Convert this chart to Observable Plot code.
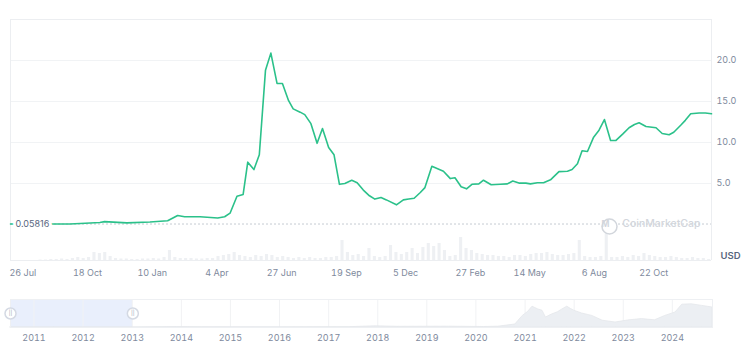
<!DOCTYPE html>
<html><head><meta charset="utf-8">
<script src="https://cdn.jsdelivr.net/npm/d3@7"></script>
<script src="https://cdn.jsdelivr.net/npm/@observablehq/plot@0.6"></script>
<style>
body{margin:0;background:#fff;font-family:Inter,sans-serif;}
#wrap{position:relative;width:750px;height:351px;}
#wrap svg{position:absolute;left:0;}
</style></head><body><div id="wrap"></div>
<script>
const priceDates = ["2010-07-10","2010-08-27","2010-09-25","2010-10-15","2010-11-03","2010-11-09","2010-12-08","2011-01-07","2011-01-30","2011-02-12","2011-02-21","2011-03-13","2011-04-05","2011-04-14","2011-04-21","2011-04-30","2011-05-08","2011-05-14","2011-05-22","2011-05-29","2011-06-06","2011-06-13","2011-06-21","2011-06-28","2011-07-06","2011-07-12","2011-07-21","2011-07-27","2011-08-04","2011-08-12","2011-08-19","2011-08-27","2011-09-03","2011-09-10","2011-09-17","2011-09-26","2011-10-03","2011-10-11","2011-10-19","2011-10-26","2011-11-03","2011-11-10","2011-11-23","2011-12-02","2011-12-09","2011-12-16","2011-12-24","2011-12-30","2012-01-08","2012-01-23","2012-02-01","2012-02-07","2012-02-15","2012-02-22","2012-02-29","2012-03-09","2012-03-15","2012-03-25","2012-04-06","2012-04-15","2012-04-22","2012-04-30","2012-05-09","2012-05-15","2012-05-24","2012-06-01","2012-06-10","2012-06-21","2012-07-02","2012-07-08","2012-07-15","2012-07-21","2012-07-28","2012-08-05","2012-08-12","2012-08-19","2012-08-27","2012-09-03","2012-09-12","2012-09-20","2012-09-27","2012-10-03","2012-10-12","2012-10-25","2012-11-02","2012-11-11","2012-11-17","2012-11-26","2012-12-02","2012-12-09","2012-12-20","2012-12-28","2013-01-05"];
const priceValues = [0.058,0.06,0.07,0.15,0.25,0.35,0.2,0.3,0.45,1.1,0.95,0.95,0.8,0.95,1.38,3.45,3.66,7.6,6.7,8.5,18.8,20.9,17.2,17.2,15.1,14.1,13.7,13.4,12.3,9.9,11.7,9.4,8.5,4.9,5.0,5.4,5.1,4.2,3.5,3.1,3.3,3.0,2.4,3.0,3.1,3.2,3.9,4.5,7.1,6.5,5.6,5.7,4.6,4.35,4.9,4.95,5.4,4.85,4.9,4.95,5.3,5.05,5.05,4.95,5.1,5.1,5.45,6.45,6.5,6.7,7.4,9.0,8.9,10.65,11.5,12.8,10.25,10.25,11.05,11.8,12.2,12.4,11.95,11.8,11.1,10.95,11.25,12.1,12.7,13.5,13.6,13.6,13.5];
const startPrice = 0.05816;
const xTickDates = ["2010-07-26","2010-10-18","2011-01-10","2011-04-04","2011-06-27","2011-09-19","2011-12-05","2012-02-27","2012-05-14","2012-08-06","2012-10-22"];
const yTicks = [5, 10, 15, 20];
const yTop = 25;
const viewStart = "2010-07-10", viewEnd = "2013-01-05";

const volStart = "2010-07-12"; // weekly bars
const volValues = [0,0,0,0,0,0.5,0.5,1,1,1.5,1,2,3,2,3,8,7,8,4,2,1.5,1.5,1,1,1.5,1.5,2,1.5,3,10,3,2,2,2,1.5,1.5,2,2,4,5,6,8,5,4,3,5,4,6,5,3,4,3,2,3,2,3,2,2,3,3,4,20,8,5,6,4,12,4,3,4,15,8,6,8,12,7,13,17,14,17,10,4,5,23,12,10,7,6,5,5,4,4,3,5,5,4,6,7,7,8,6,5,5,6,7,20,4,3,3,4,28,3,3,4,3,5,4,7,5,4,3,3,4,3,2,2,3,2,2,1];

const navDates = ["2010-07-10","2011-06-01","2013-01-01","2013-12-01","2014-06-01","2016-01-01","2017-06-01","2017-12-15","2018-06-01","2019-06-15","2020-03-01","2020-06-15","2020-10-20","2020-12-15","2021-01-20","2021-02-25","2021-04-10","2021-05-10","2021-06-05","2021-07-20","2021-09-01","2021-10-05","2021-11-10","2021-12-10","2022-01-01","2022-03-01","2022-05-15","2022-08-01","2022-11-05","2023-02-15","2023-05-20","2023-08-25","2023-11-10","2024-01-25","2024-03-15","2024-05-25","2024-08-10","2024-10-26"];
const navValues = [0.06,0.6,0.4,12,6,4,8,30,17,20,12,20,75,290,380,520,450,420,250,325,380,450,520,460,420,350,290,170,125,180,210,180,290,375,570,580,540,500];
const navYears = ["2011","2012","2013","2014","2015","2016","2017","2018","2019","2020","2021","2022","2023","2024"];
const navStart = "2010-07-10", navEnd = "2024-10-26";
const selStart = "2010-07-10", selEnd = "2013-01-05";

const P = s => new Date(s + "T00:00:00Z");
const priceData = priceDates.map((d, i) => ({date: P(d), price: priceValues[i]}));
const volData = volValues.map((v, i) => ({date: d3.utcDay.offset(P(volStart), 7 * i), vol: v}));
const navData = navDates.map((d, i) => ({date: P(d), price: navValues[i]}));
const xDom = [P(viewStart), P(viewEnd)];
const wrap = document.getElementById("wrap");
const font = {fontFamily: "Inter, sans-serif", fontSize: "9px", color: "#808a9d", background: "transparent"};

const vol = Plot.plot({
  width: 750, height: 290, marginTop: 224, marginBottom: 30, marginLeft: 10, marginRight: 39,
  style: font,
  x: {type: "utc", domain: xDom, axis: null},
  y: {domain: [0, 36], axis: null},
  marks: [
    Plot.rectY(volData, {x1: "date", x2: d => d3.utcDay.offset(d.date, 4), y: "vol", fill: "#eef0f3"}),
    Plot.ruleX(xDom, {stroke: "#eceef1"}),
    Plot.ruleY([0], {stroke: "#eceef1"}),
    Plot.text(["USD"], {frameAnchor: "bottom-right", dx: 9, dy: -2, textAnchor: "start", fontWeight: 600, fill: "#58667e", fontSize: 9.5})
  ]
});
vol.style.top = "0px";
wrap.appendChild(vol);

const main = Plot.plot({
  width: 750, height: 290, marginTop: 19, marginBottom: 66, marginLeft: 10, marginRight: 39,
  style: font,
  x: {type: "utc", domain: xDom, ticks: xTickDates.map(P), tickFormat: d3.utcFormat("%-d %b"), tickSize: 0, tickPadding: 45, label: null},
  y: {domain: [0, yTop], axis: "right", ticks: yTicks, tickFormat: d3.format(".1f"), tickSize: 0, tickPadding: 5, label: null},
  marks: [
    Plot.ruleY(yTicks, {stroke: "#f1f3f5"}),
    Plot.ruleY([yTop], {stroke: "#eceef1"}),
    Plot.ruleX(xDom, {stroke: "#eceef1"}),
    Plot.ruleY([startPrice], {stroke: "#c6cbd2", strokeDasharray: "2,2"}),
    Plot.dot([0], {frameAnchor: "bottom-right", dx: -102, dy: 2, r: 7.5, stroke: "#d2d6dc", strokeWidth: 1.5, fill: "white"}),
    Plot.text(["M"], {frameAnchor: "bottom-right", dx: -102, dy: 2, fill: "#d2d6dc", fontSize: 8.5, fontWeight: 700}),
    Plot.text(["CoinMarketCap"], {frameAnchor: "bottom-right", dx: -11, dy: 2.5, textAnchor: "end", fill: "#d2d6dc", fontSize: 10.5, fontWeight: 500}),
    Plot.line(priceData, {x: "date", y: "price", stroke: "#2bc18a", strokeWidth: 1.6}),
    Plot.text([startPrice], {x: () => xDom[0], y: d => d, text: d => String(d), textAnchor: "start", dx: 5, fill: "#58667e", stroke: "white", strokeWidth: 6, fontSize: 9})
  ]
});
main.style.top = "0px";
wrap.appendChild(main);

const navDom = [P(navStart), P(navEnd)];
const nav = Plot.plot({
  width: 750, height: 61, marginTop: 9, marginBottom: 24, marginLeft: 10, marginRight: 38,
  style: font,
  x: {type: "utc", domain: navDom, ticks: navYears.map(y => P(y + "-01-01")), tickFormat: d3.utcFormat("%Y"), tickSize: 0, tickPadding: 7, label: null},
  y: {domain: [0, 700], axis: null},
  marks: [
    Plot.rect([0], {x1: () => P(selStart), x2: () => P(selEnd), fill: "#e9effc"}),
    Plot.ruleX(navYears.map(y => P(y + "-01-01")), {stroke: "#f1f2f4"}),
    Plot.areaY(navData, {x: "date", y: "price", fill: "#eceff3", stroke: "#e4e7eb", strokeWidth: 0.8}),
    Plot.frame({stroke: "#eef0f3"}),
    Plot.dot([P(selStart), P(selEnd)], {x: d => d, r: 5.5, fill: "white", stroke: "#d4d9e3"}),
    Plot.text([P(selStart), P(selEnd)], {x: d => d, text: () => "||", fill: "#9aa2b0", fontSize: 5.5})
  ]
});
nav.style.top = "290px";
wrap.appendChild(nav);
</script>
</body></html>
